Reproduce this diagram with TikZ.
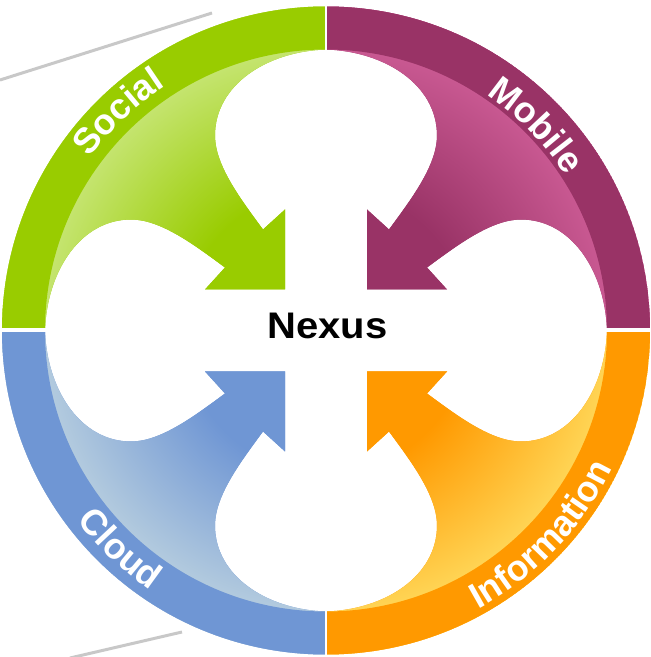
\documentclass[tikz,border=0pt]{standalone}
\usepackage{fontspec}
\setmainfont{Liberation Sans}
\usetikzlibrary{decorations.text}
\definecolor{gbase}{RGB}{153,204,0}
\definecolor{glight}{RGB}{196,228,110}
\definecolor{pbase}{RGB}{153,51,102}
\definecolor{plight}{RGB}{200,88,145}
\definecolor{bbase}{RGB}{111,150,212}
\definecolor{blight}{RGB}{178,202,222}
\definecolor{obase}{RGB}{255,153,0}
\definecolor{olight}{RGB}{255,212,84}
\definecolor{lineg}{RGB}{200,200,200}
\pgfdeclareradialshading{gshade}{\pgfpoint{0bp}{0bp}}{color(0bp)=(gbase); color(11bp)=(gbase); color(21.7bp)=(glight); color(50bp)=(glight)}
\pgfdeclareradialshading{pshade}{\pgfpoint{0bp}{0bp}}{color(0bp)=(pbase); color(11bp)=(pbase); color(21.7bp)=(plight); color(50bp)=(plight)}
\pgfdeclareradialshading{bshade}{\pgfpoint{0bp}{0bp}}{color(0bp)=(bbase); color(11bp)=(bbase); color(21.7bp)=(blight); color(50bp)=(blight)}
\pgfdeclareradialshading{oshade}{\pgfpoint{0bp}{0bp}}{color(0bp)=(obase); color(11bp)=(obase); color(21.7bp)=(olight); color(50bp)=(olight)}
\tikzset{
  quadpath/.style={insert path={(0,324) arc[start angle=90,end angle=180,radius=324] -- (-281,0)
     .. controls (-279,60) and (-245,111) .. (-195,111)
     .. controls (-165,111) and (-131,85) .. (-101,63)
     -- (-121,41) -- (-41,41) -- (-41,121) -- (-63,101)
     .. controls (-85,131) and (-111,165) .. (-111,195)
     .. controls (-111,245) and (-60,279) .. (0,281) -- cycle}},
  bandpath/.style={insert path={(0,324) arc[start angle=90,end angle=180,radius=324] -- (-281,0) arc[start angle=180,end angle=90,radius=281] -- cycle}},
  lab/.style={decorate, decoration={text along path, text align=center, text color=white,
     text={|\bfseries\fontsize{36}{36}\selectfont|#1}}},
  grayline/.style={draw=lineg, line width=3pt},
  gapline/.style={draw=white, line width=#1}
}
\newcommand\drawquad[3]{%
  \begin{scope}[shift={(C)}, rotate=#1]
    \fill[#2, quadpath];
    \begin{scope}
      \clip[quadpath];
      \shade[shading=#3] (-324,-324) rectangle (324,324);
      \fill[#2, bandpath];
    \end{scope}
  \end{scope}}
\begin{document}
\begin{tikzpicture}[x=1pt,y=1pt]
\useasboundingbox (0,0) rectangle (651,657);
\clip (0,0) rectangle (651,657);
\coordinate (C) at (326,326.5);
\coordinate (g1a) at (0,577);
\coordinate (g1b) at (212,644);
\coordinate (g2a) at (182,25);
\coordinate (g2b) at (70,-1);
\draw[grayline] (g1a) -- (g1b);
\draw[grayline] (g2a) -- (g2b);
\drawquad{0}{gbase}{gshade}
\drawquad{-90}{pbase}{pshade}
\drawquad{90}{bbase}{bshade}
\drawquad{180}{obase}{oshade}
\begin{scope}[shift={(C)}]
  \draw[gapline=2.5pt] (0,-330) -- (0,330);
  \draw[gapline=4pt] (-330,0) -- (330,0);
  \path[lab=Social] (163.5:292.5) arc[start angle=163.5, end angle=103.5, radius=292.5];
  \path[lab=Mobile] (74.3:285.5) arc[start angle=74.3, end angle=14.3, radius=285.5];
  \path[lab=Cloud] (196.7:313.5) arc[start angle=196.7, end angle=256.7, radius=313.5];
  \path[lab=Information] (-75.5:317.5) arc[start angle=-75.5, end angle=-11.5, radius=317.5];
\end{scope}
\node[font=\bfseries\fontsize{37}{37}\selectfont, xscale=1.08, anchor=base, inner sep=0pt] (nexus) at (327.5,318) {Nexus};
\end{tikzpicture}
\end{document}
